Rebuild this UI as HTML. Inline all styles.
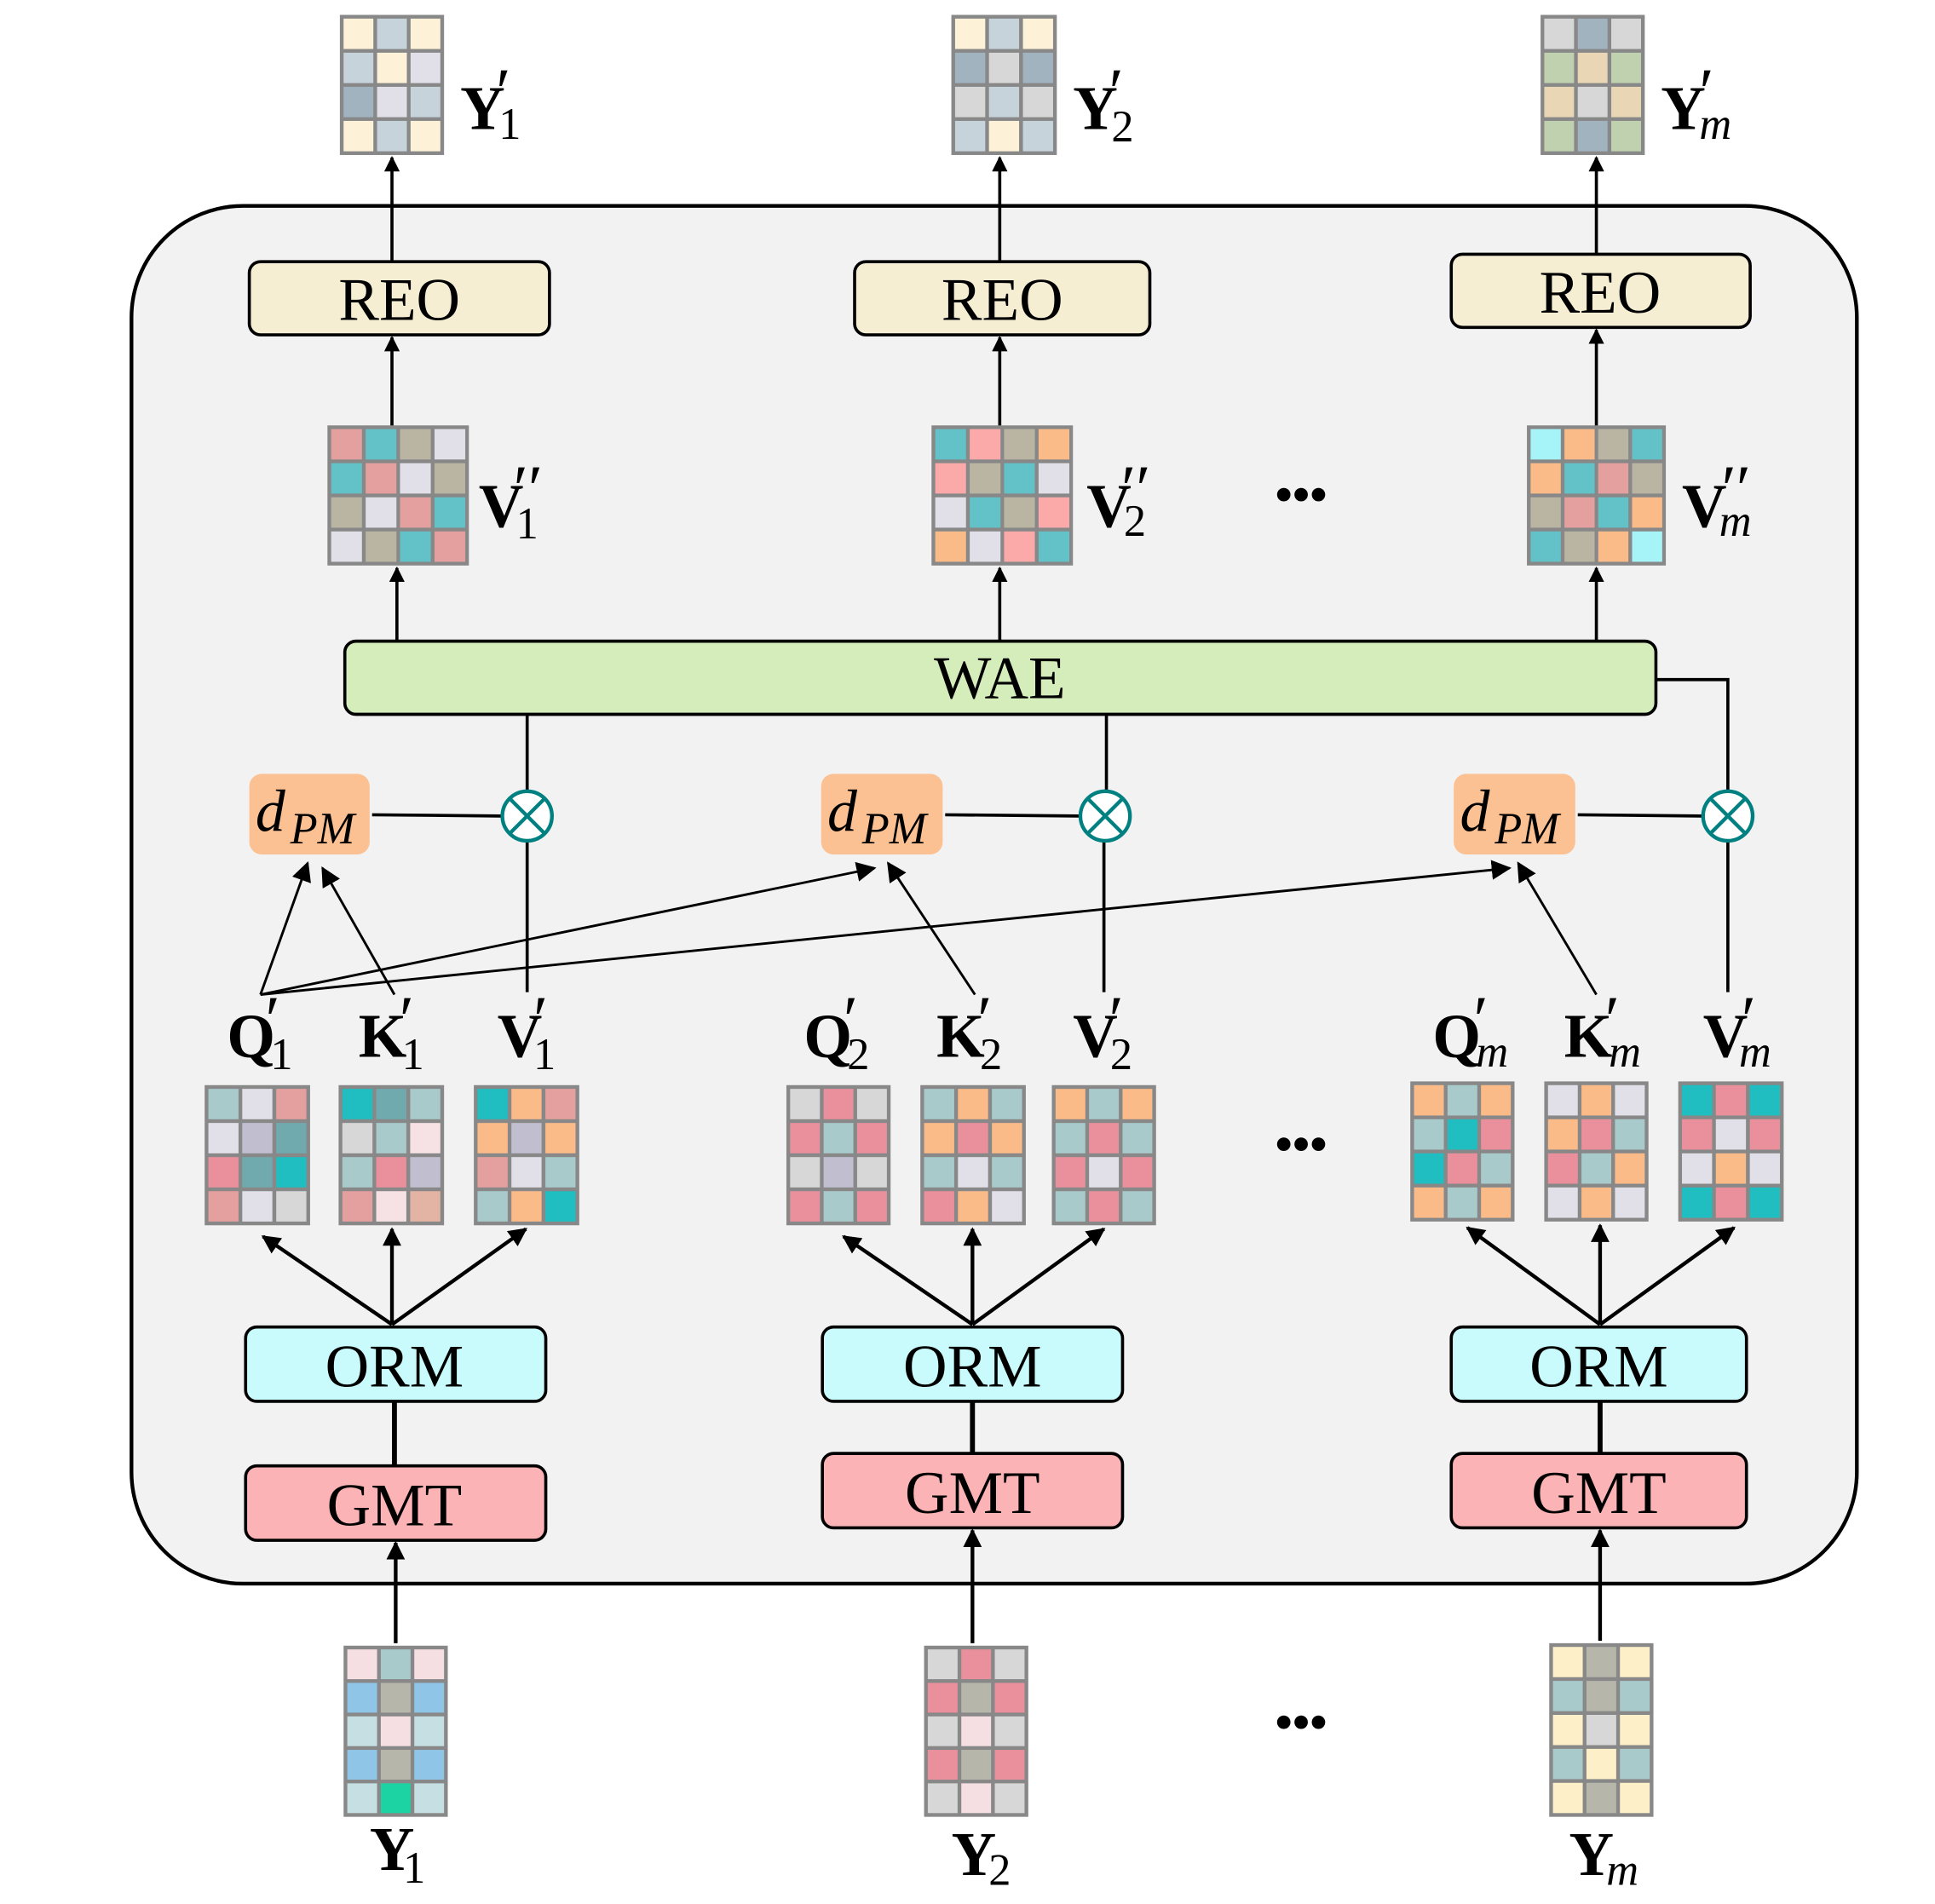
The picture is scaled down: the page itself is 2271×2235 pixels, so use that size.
<!DOCTYPE html>
<html><head><meta charset="utf-8"><style>
html,body{margin:0;padding:0;background:#fff;}
svg{display:block;}
text{font-family:"Liberation Serif",serif;fill:#000;}
.b{font-weight:bold;font-size:50px;}
.s{font-size:36px;}
.si{font-size:36px;font-style:italic;}
.p{font-size:54px;}
.box{font-size:49px;}
</style></head><body>
<svg id="svg" width="2271" height="2235" viewBox="0 0 1560 1535.3" preserveAspectRatio="none" xmlns="http://www.w3.org/2000/svg">
<defs>
<marker id="a" viewBox="0 0 10 10" refX="9" refY="5" markerWidth="5" markerHeight="5" orient="auto-start-reverse" markerUnits="strokeWidth">
<path d="M0,0 L10,5 L0,10 z" fill="#000"/></marker>
<marker id="a2" viewBox="0 0 10 10" refX="9" refY="5" markerWidth="8" markerHeight="8" orient="auto" markerUnits="strokeWidth">
<path d="M0,0 L10,5 L0,10 z" fill="#000"/></marker>
</defs>
<rect x="0" y="0" width="1560" height="1536" fill="#fff"/>
<rect x="106" y="166" width="1391" height="1111" rx="90" fill="#f2f2f2" stroke="#000" stroke-width="3"/>
<g id="grids"></g>
<g stroke="#000" stroke-width="2.5" fill="none">
<line x1="316" y1="211" x2="316" y2="127" marker-end="url(#a)"/>
<line x1="806" y1="211" x2="806" y2="127" marker-end="url(#a)"/>
<line x1="1287" y1="205" x2="1287" y2="127" marker-end="url(#a)"/>
<line x1="316" y1="343" x2="316" y2="272" marker-end="url(#a)"/>
<line x1="806" y1="343" x2="806" y2="272" marker-end="url(#a)"/>
<line x1="1287" y1="343" x2="1287" y2="266" marker-end="url(#a)"/>
<line x1="320" y1="517" x2="320" y2="458" marker-end="url(#a)"/>
<line x1="806" y1="517" x2="806" y2="458" marker-end="url(#a)"/>
<line x1="1287" y1="517" x2="1287" y2="458" marker-end="url(#a)"/>
<line x1="425" y1="576" x2="425" y2="637"/>
<line x1="892" y1="576" x2="892" y2="637"/>
<polyline points="1335,548 1393,548 1393,637"/>
<line x1="425" y1="679" x2="425" y2="800"/>
<line x1="890" y1="679" x2="890" y2="800"/>
<line x1="1393" y1="679" x2="1393" y2="800"/>
<line x1="300" y1="657" x2="404" y2="658"/>
<line x1="762" y1="657" x2="870" y2="658"/>
<line x1="1272" y1="657" x2="1372" y2="658"/>
</g>
<g stroke="#000" stroke-width="2" fill="none">
<line x1="210" y1="802" x2="248" y2="696" marker-end="url(#a2)"/>
<line x1="318" y1="802" x2="260" y2="700" marker-end="url(#a2)"/>
<line x1="210" y1="802" x2="705" y2="700" marker-end="url(#a2)"/>
<line x1="210" y1="802" x2="1217" y2="700" marker-end="url(#a2)"/>
<line x1="786" y1="802" x2="716" y2="696" marker-end="url(#a2)"/>
<line x1="1287" y1="802" x2="1224" y2="696" marker-end="url(#a2)"/>
</g>
<g stroke="#000" stroke-width="3" fill="none">
<line x1="316" y1="1068" x2="212" y2="997" marker-end="url(#a)"/>
<line x1="316" y1="1068" x2="316" y2="991" marker-end="url(#a)"/>
<line x1="316" y1="1068" x2="424" y2="991" marker-end="url(#a)"/>
<line x1="784" y1="1068" x2="680" y2="997" marker-end="url(#a)"/>
<line x1="784" y1="1068" x2="784" y2="991" marker-end="url(#a)"/>
<line x1="784" y1="1068" x2="890" y2="991" marker-end="url(#a)"/>
<line x1="1290" y1="1068" x2="1183" y2="990" marker-end="url(#a)"/>
<line x1="1290" y1="1068" x2="1290" y2="988" marker-end="url(#a)"/>
<line x1="1290" y1="1068" x2="1398" y2="990" marker-end="url(#a)"/>
<line x1="318" y1="1130" x2="318" y2="1182" stroke-width="4"/>
<line x1="784" y1="1130" x2="784" y2="1172" stroke-width="4"/>
<line x1="1290" y1="1130" x2="1290" y2="1172" stroke-width="4"/>
<line x1="319" y1="1325" x2="319" y2="1244" marker-end="url(#a)"/>
<line x1="784" y1="1325" x2="784" y2="1234" marker-end="url(#a)"/>
<line x1="1290" y1="1323" x2="1290" y2="1234" marker-end="url(#a)"/>
</g>
<g stroke="#000" stroke-width="2.5">
<rect x="201" y="211" width="242" height="59" rx="9" fill="#f6eed3"/>
<rect x="689" y="211" width="238" height="59" rx="9" fill="#f6eed3"/>
<rect x="1170" y="205" width="241" height="59" rx="9" fill="#f6eed3"/>
<rect x="278" y="517" width="1057" height="59" rx="9" fill="#d5ecbb"/>
<rect x="198" y="1070" width="242" height="60" rx="9" fill="#c9fbfc"/>
<rect x="663" y="1070" width="242" height="60" rx="9" fill="#c9fbfc"/>
<rect x="1170" y="1070" width="238" height="60" rx="9" fill="#c9fbfc"/>
<rect x="198" y="1182" width="242" height="60" rx="9" fill="#fbb3b5"/>
<rect x="663" y="1172" width="242" height="60" rx="9" fill="#fbb3b5"/>
<rect x="1170" y="1172" width="238" height="60" rx="9" fill="#fbb3b5"/>
</g>
<g fill="#fbc193">
<rect x="201" y="624" width="97" height="65" rx="10"/>
<rect x="662" y="624" width="98" height="65" rx="10"/>
<rect x="1172" y="624" width="98" height="65" rx="10"/>
</g>
<g stroke="#008080" stroke-width="3" fill="#fff">
<circle cx="425" cy="658" r="20"/><path d="M411,644 L439,672 M439,644 L411,672" fill="none"/>
<circle cx="891" cy="658" r="20"/><path d="M877,644 L905,672 M905,644 L877,672" fill="none"/>
<circle cx="1393" cy="658" r="20"/><path d="M1379,644 L1407,672 M1407,644 L1379,672" fill="none"/>
</g>
<g text-anchor="middle">
<text x="322" y="258" class="box">REO</text>
<text x="808" y="258" class="box">REO</text>
<text x="1290" y="252" class="box">REO</text>
<text x="806" y="563" class="box">WAE</text>
<text x="318" y="1118" class="box">ORM</text>
<text x="784" y="1118" class="box">ORM</text>
<text x="1289" y="1118" class="box">ORM</text>
<text x="318" y="1230" class="box">GMT</text>
<text x="784" y="1220" class="box">GMT</text>
<text x="1289" y="1220" class="box">GMT</text>
</g>
<text x="206" y="670" font-size="48" font-style="italic">d</text><text x="234" y="680" class="si">PM</text>
<text x="667" y="670" font-size="48" font-style="italic">d</text><text x="695" y="680" class="si">PM</text>
<text x="1177" y="670" font-size="48" font-style="italic">d</text><text x="1205" y="680" class="si">PM</text>
<g font-size="40" font-weight="bold">
<text x="1028" y="412">•••</text>
<text x="1028" y="936">•••</text>
<text x="1028" y="1402">•••</text>
</g>
<text x="371" y="104" class="b">Y</text><text x="402" y="112" class="s">1</text><text x="400" y="92" class="p">′</text>
<text x="865" y="104" class="b">Y</text><text x="896" y="114" class="s">2</text><text x="894" y="92" class="p">′</text>
<text x="1339" y="104" class="b">Y</text><text x="1370" y="112" class="si">m</text><text x="1370" y="92" class="p">′</text>
<text x="386" y="425" class="b">V</text><text x="416" y="434" class="s">1</text><text x="414" y="412" class="p">′′</text>
<text x="876" y="425" class="b">V</text><text x="906" y="432" class="s">2</text><text x="904" y="412" class="p">′′</text>
<text x="1356" y="425" class="b">V</text><text x="1386" y="432" class="si">m</text><text x="1388" y="412" class="p">′′</text>
<text x="183" y="852" class="b">Q</text><text x="218" y="862" class="s">1</text><text x="214" y="840" class="p">′</text>
<text x="289" y="852" class="b">K</text><text x="324" y="862" class="s">1</text><text x="322" y="840" class="p">′</text>
<text x="401" y="852" class="b">V</text><text x="430" y="862" class="s">1</text><text x="430" y="840" class="p">′</text>
<text x="648" y="852" class="b">Q</text><text x="683" y="862" class="s">2</text><text x="680" y="840" class="p">′</text>
<text x="755" y="852" class="b">K</text><text x="790" y="862" class="s">2</text><text x="788" y="840" class="p">′</text>
<text x="865" y="852" class="b">V</text><text x="895" y="862" class="s">2</text><text x="894" y="840" class="p">′</text>
<text x="1155" y="852" class="b">Q</text><text x="1190" y="860" class="si">m</text><text x="1188" y="840" class="p">′</text>
<text x="1261" y="852" class="b">K</text><text x="1297" y="860" class="si">m</text><text x="1294" y="840" class="p">′</text>
<text x="1373" y="852" class="b">V</text><text x="1402" y="860" class="si">m</text><text x="1404" y="840" class="p">′</text>
<text x="298" y="1508" class="b" font-size="42">Y</text><text x="325" y="1518" class="s">1</text>
<text x="767" y="1512" class="b">Y</text><text x="797" y="1520" class="s">2</text>
<text x="1265" y="1512" class="b">Y</text><text x="1295" y="1520" class="si">m</text>
</svg>
<script>
var C={cr:'#fdf2d8',bg:'#c7d3da',lv:'#e1e0e8',st:'#a2b3c0',pk:'#e4a09e',tl:'#62c2c7',kh:'#bab5a3',
sg:'#a9cacb',lg:'#c1bfcf',dt:'#70aaae',ct:'#20bec0',rs:'#ea909d',gr:'#d7d7d7',lp:'#f6e2e4',sa:'#e3b3a3',or:'#fbbb88',
pl:'#f5dfe3',sk:'#8fc6e8',ol:'#b6b6ab',ic:'#c5dfe3',mt:'#1cd3a3',yl:'#fdf0c8',gg:'#c0d1b0',tn:'#e8d6b5',aq:'#a6f4f8',pc:'#fba9a9'};
var G=[
[274,12,84,113,3,'cr bg cr|bg cr lv|st lv bg|cr bg cr'],
[767,12,85,113,3,'cr bg cr|st gr st|gr bg gr|bg cr bg'],
[1242,12,84,113,3,'gr st gr|gg tn gg|tn gr tn|gg st gg'],
[264,343,114,113,4,'pk tl kh lv|tl pk lv kh|kh lv pk tl|lv kh tl pk'],
[751,343,114,113,4,'tl pc kh or|pc kh tl lv|lv tl kh pc|or lv pc tl'],
[1231,343,112,113,4,'aq or kh tl|or tl pk kh|kh pk tl or|tl kh or aq'],
[165,875,85,113,3,'sg lv pk|lv lg dt|rs dt ct|pk lv gr'],
[273,875,85,113,3,'ct dt sg|gr sg lp|sg rs lg|pk lp sa'],
[382,875,85,113,3,'ct or pk|or lg or|pk lv sg|sg or ct'],
[634,875,84,113,3,'gr rs gr|rs sg rs|gr lg gr|rs sg rs'],
[742,875,85,113,3,'sg or sg|or rs or|sg lv sg|rs or lv'],
[848,875,84,113,3,'or sg or|sg rs sg|rs lv rs|sg rs sg'],
[1137,872,84,113,3,'or sg or|sg ct rs|ct rs sg|or sg or'],
[1245,872,84,113,3,'lv or lv|or rs sg|rs sg or|lv or lv'],
[1353,872,85,113,3,'ct rs ct|rs lv rs|lv or lv|ct rs ct'],
[277,1327,84,138,3,'pl sg pl|sk ol sk|ic pl ic|sk ol sk|ic mt ic'],
[745,1327,84,138,3,'gr rs gr|rs ol rs|gr pl gr|rs ol rs|gr pl gr'],
[1249,1325,84,140,3,'yl ol yl|sg ol sg|yl gr yl|sg yl sg|yl ol yl']];
var s='';
G.forEach(function(g){var x=g[0],y=g[1],w=g[2],h=g[3],n=g[4],rows=g[5].split('|');
s+='<rect x="'+x+'" y="'+y+'" width="'+w+'" height="'+h+'" fill="#888"/>';
var pw=(w-3)/n,ph=(h-3)/rows.length;
rows.forEach(function(r,i){r.split(' ').forEach(function(c,j){
s+='<rect x="'+(x+3+j*pw).toFixed(1)+'" y="'+(y+3+i*ph).toFixed(1)+'" width="'+(pw-3).toFixed(1)+'" height="'+(ph-3).toFixed(1)+'" fill="'+C[c]+'"/>';});});});
document.getElementById('grids').innerHTML=s;
</script>
</body></html>
